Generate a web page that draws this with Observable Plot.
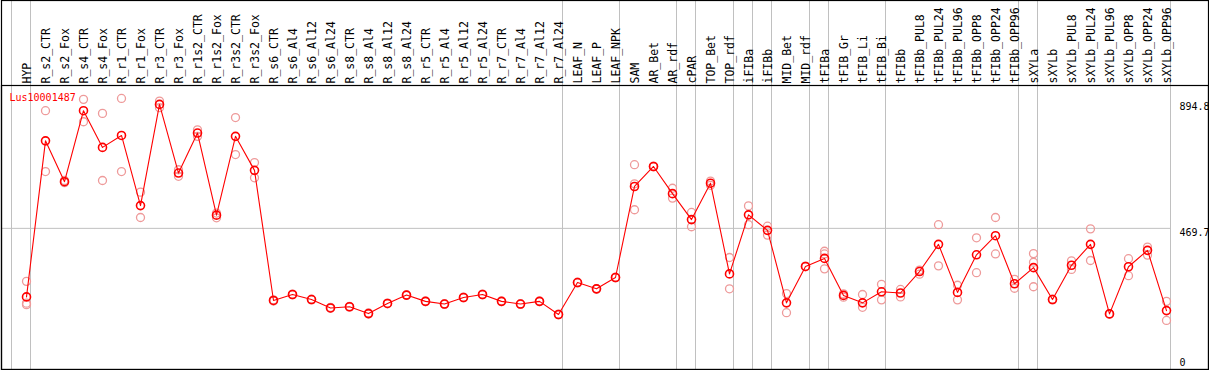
<!DOCTYPE html>
<html>
<head>
<meta charset="utf-8">
<script src="https://cdn.jsdelivr.net/npm/d3@7"></script>
<script src="https://cdn.jsdelivr.net/npm/@observablehq/plot@0.6"></script>
<style>
  html, body { margin: 0; padding: 0; background: #fff; }
  #chart svg { display: block; background: #fff; }
  #chart g[aria-label="category labels"] text { letter-spacing: -1.1px; }
</style>
</head>
<body>
<div id="chart"></div>
<script>
const categories = ["HYP","R_s2_CTR","R_s2_Fox","R_s4_CTR","R_s4_Fox","R_r1_CTR","R_r1_Fox","R_r3_CTR","R_r3_Fox","R_r1s2_CTR","R_r1s2_Fox","R_r3s2_CTR","R_r3s2_Fox","R_s6_CTR","R_s6_Al4","R_s6_Al12","R_s6_Al24","R_s8_CTR","R_s8_Al4","R_s8_Al12","R_s8_Al24","R_r5_CTR","R_r5_Al4","R_r5_Al12","R_r5_Al24","R_r7_CTR","R_r7_Al4","R_r7_Al12","R_r7_Al24","LEAF_N","LEAF_P","LEAF_NPK","SAM","AR_Bet","AR_rdf","cPAR","TOP_Bet","TOP_rdf","iFIBa","iFIBb","MID_Bet","MID_rdf","tFIBa","tFIB_Gr","tFIB_Li","tFIB_Bi","tFIBb","tFIBb_PUL8","tFIBb_PUL24","tFIBb_PUL96","tFIBb_OPP8","tFIBb_OPP24","tFIBb_OPP96","sXYLa","sXYLb","sXYLb_PUL8","sXYLb_PUL24","sXYLb_PUL96","sXYLb_OPP8","sXYLb_OPP24","sXYLb_OPP96"];

const meanValues = [240,763,626,864,741,781,546,885,655,789,514,778,664,228,248,231,203,207,184,218,246,225,216,238,248,225,216,225,181,288,267,305,610,677,586,499,621,317,515,463,220,342,369,245,220,257,253,325,416,255,381,445,284,338,231,346,416,183,341,396,194];

const repA = [292,864,630,902,855,905,591,896,666,800,521,841,690,230,249,232,205,208,186,219,247,226,217,239,249,226,217,226,182,289,268,306,683,678,604,523,628,372,545,477,251,343,393,250,248,282,265,316,482,279,438,506,299,385,232,361,468,184,368,407,225];
const repB = [219,660,623,827,630,660,506,874,644,778,505,717,639,226,247,230,202,206,183,217,245,224,215,237,247,224,215,224,180,287,266,304,619,676,571,475,614,267,482,447,187,341,384,239,205,230,240,330,344,230,321,384,269,356,230,332,362,182,311,380,161];
const repC = [214,null,null,null,null,null,null,null,null,null,null,null,null,null,null,null,null,null,null,null,null,null,null,null,null,null,null,null,null,null,null,null,532,null,null,null,null,null,null,null,null,null,334,null,null,null,null,null,null,null,null,null,null,274,null,null,null,null,null,null,null];

const groupEnds = ["HYP","R_r7_Al24","LEAF_NPK","AR_rdf","cPAR","TOP_rdf","iFIBa","iFIBb","MID_rdf","tFIBa","tFIB_Bi","tFIBb_OPP96","sXYLa","sXYLb_OPP96"];
const groupStart = ["HYP"];
const geneName = "Lus10001487";
const yTicksTop = [894.8, 469.7];
const yTicksBottom = [0];

const meanData = categories.map((c, i) => ({cat: c, value: meanValues[i]}));
const repData = [];
[repA, repB, repC].forEach(arr => arr.forEach((v, i) => { if (v != null) repData.push({cat: categories[i], value: v}); }));

const font = "DejaVu Sans Mono, monospace";

const chart = Plot.plot({
  width: 1209,
  height: 370,
  marginTop: 85,
  marginLeft: 1,
  marginRight: 1,
  marginBottom: 1,
  style: {fontFamily: font, fontSize: "10px", background: "#fff"},
  x: {type: "point", domain: categories, range: [26, 1166], padding: 0, axis: null},
  y: {type: "linear", domain: [0, 894.8], range: [368, 101], axis: null},
  marks: [
    Plot.ruleY([469.7], {stroke: "#c0c0c0", strokeWidth: 1, insetRight: 38}),
    Plot.ruleX(groupEnds, {x: d => d, dx: 4, stroke: "#c0c0c0", strokeWidth: 1, insetTop: -85}),
    Plot.ruleX(groupStart, {x: d => d, dx: -15, stroke: "#c0c0c0", strokeWidth: 1, insetTop: -85}),
    Plot.frame({stroke: "#000", strokeWidth: 1.2}),
    Plot.frame({stroke: "#000", strokeWidth: 1.2, insetTop: -85}),
    Plot.text(categories, {x: d => d, text: d => d, frameAnchor: "top", dx: -3.5, dy: -2, rotate: -90, textAnchor: "start", fill: "#000", fontSize: 11.5, ariaLabel: "category labels"}),
    Plot.text(yTicksTop, {y: d => d, text: d => String(d), frameAnchor: "right", dx: -29, dy: 1, textAnchor: "start", lineAnchor: "top", fill: "#000"}),
    Plot.text(yTicksBottom, {y: d => d, text: d => String(d), frameAnchor: "right", dx: -29, dy: -3, textAnchor: "start", lineAnchor: "bottom", fill: "#000"}),
    Plot.dot(repData, {x: "cat", y: "value", r: 4, stroke: "#ee9a9a", strokeWidth: 1.3, fill: "none"}),
    Plot.line(meanData, {x: "cat", y: "value", stroke: "#ff0000", strokeWidth: 1.1}),
    Plot.dot(meanData, {x: "cat", y: "value", r: 4, stroke: "#ff0000", strokeWidth: 1.6, fill: "none"}),
    Plot.text([geneName], {text: d => d, frameAnchor: "top-left", dx: 8, dy: 8, textAnchor: "start", lineAnchor: "top", fill: "#ff0000"})
  ]
});
document.getElementById("chart").appendChild(chart);
</script>
</body>
</html>
